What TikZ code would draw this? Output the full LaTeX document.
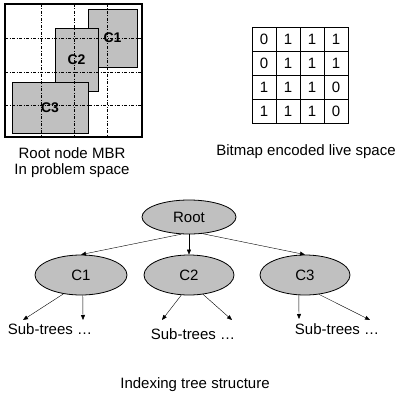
\documentclass[tikz,border=0pt]{standalone}
\usepackage{fontspec}
\setmainfont{Liberation Sans}
\usetikzlibrary{shapes, positioning, arrows.meta}
\definecolor{boxgray}{RGB}{192,192,192}
\tikzset{
  mbr/.style={draw, fill=boxgray, line width=0.8pt, inner sep=0pt, font=\fontsize{14}{16}\selectfont\bfseries},
  cell/.style={draw, minimum size=24pt, inner sep=0pt, line width=0.8pt},
  tnode/.style={ellipse, draw, fill=boxgray, inner sep=0pt, line width=0.8pt},
  dashline/.style={dash pattern=on 3pt off 1.5pt on 1pt off 1.5pt, line width=0.9pt},
}

\begin{document}
\begin{tikzpicture}[x=1pt, y=-1pt, >={Triangle[length=5pt, width=4pt]}, font=\fontsize{15}{17}\selectfont]
        \useasboundingbox (0,0) rectangle (398,396);

        % root node MBR in problem space
        \node[mbr, minimum width=49pt, minimum height=58pt] (mc1) at (112.5,38) {C1};
        \node[mbr, minimum width=43pt, minimum height=63pt] (mc2) at (76.5,59.5) {C2};
        \node[mbr, minimum width=76pt, minimum height=51pt] (mc3) at (50,107.5) {C3};
        \draw[line width=1.5pt] (5,4) rectangle (142,137);
        \draw[dashline] (41,4) -- (41,137);
        \draw[dashline] (74,4) -- (74,137);
        \draw[dashline] (107,4) -- (107,137);
        \draw[dashline] (5,38) -- (142,38);
        \draw[dashline] (5,72) -- (142,72);
        \draw[dashline] (5,105) -- (142,105);
        \node[anchor=base] (mbr1) at (72,158) {Root node MBR};
        \node[anchor=base] (mbr2) at (72,174) {In problem space};

        % bitmap
        \node[cell] (b11) at (264,39) {0};
        \node[cell] (b12) at (288,39) {1};
        \node[cell] (b13) at (312,39) {1};
        \node[cell] (b14) at (336,39) {1};
        \node[cell] (b21) at (264,63) {0};
        \node[cell] (b22) at (288,63) {1};
        \node[cell] (b23) at (312,63) {1};
        \node[cell] (b24) at (336,63) {1};
        \node[cell] (b31) at (264,87) {1};
        \node[cell] (b32) at (288,87) {1};
        \node[cell] (b33) at (312,87) {1};
        \node[cell] (b34) at (336,87) {0};
        \node[cell] (b41) at (264,111) {1};
        \node[cell] (b42) at (288,111) {1};
        \node[cell] (b43) at (312,111) {1};
        \node[cell] (b44) at (336,111) {0};
        \node[anchor=base] (bmlabel) at (306,155) {Bitmap encoded live space};

        % indexing tree
        \node[tnode, minimum width=94pt, minimum height=34pt] (root) at (189,217) {Root};
        \node[tnode, minimum width=92pt, minimum height=40pt] (c1) at (81,275) {C1};
        \node[tnode, minimum width=90pt, minimum height=40pt] (c2) at (189,275) {C2};
        \node[tnode, minimum width=90pt, minimum height=40pt] (c3) at (305,275) {C3};

        \coordinate (s1a) at (23,320);
        \coordinate (s1b) at (83,320);
        \coordinate (s2a) at (162,320);
        \coordinate (s2b) at (232,320);
        \coordinate (s3a) at (299,319);
        \coordinate (s3b) at (370,320);

        \draw[->] (root.246) to (c1.north);
        \draw[->] (root) to (c2);
        \draw[->] (root.309) to (c3.north);

        \draw[->] (c1.227) to (s1a);
        \draw[->] (c1.275) to (s1b);
        \draw[->] (c2.249) to (s2a);
        \draw[->] (c2.306) to (s2b);
        \draw[->] (c3.253) to (s3a);
        \draw[->] (c3.306) to (s3b);

        \node[anchor=base] (sub1) at (50,334) {Sub-trees …};
        \node[anchor=base] (sub2) at (193,339) {Sub-trees …};
        \node[anchor=base] (sub3) at (337,334) {Sub-trees …};
        \node[anchor=base] (title) at (195,388) {Indexing tree structure};
    \end{tikzpicture}
\end{document}
